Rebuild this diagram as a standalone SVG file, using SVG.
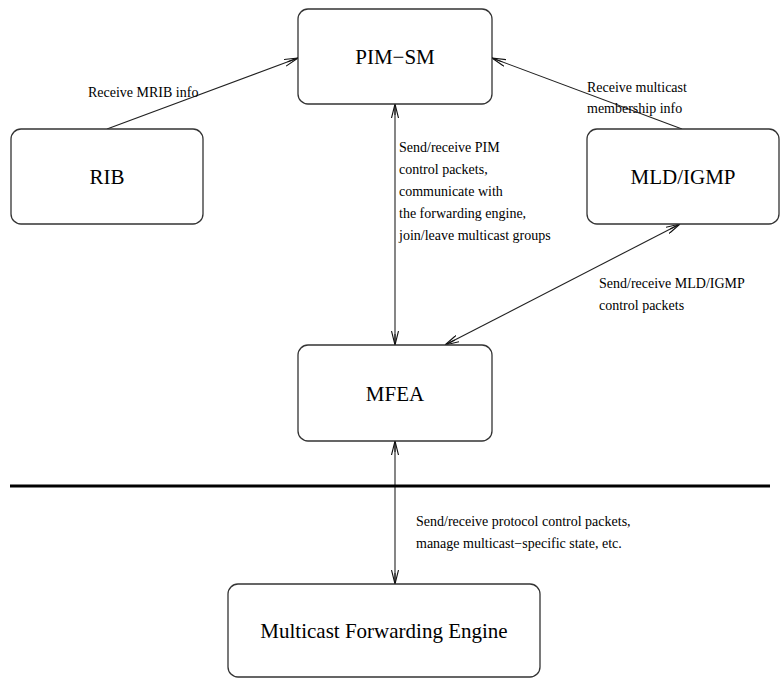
<svg xmlns="http://www.w3.org/2000/svg" width="780" height="678" viewBox="0 0 780 678">
<style>
.box{fill:#fff;stroke:#333;stroke-width:1.3}
.node{font-family:"Liberation Serif",serif;font-size:21px;fill:#000;text-anchor:middle}
.lbl{font-family:"Liberation Serif",serif;font-size:14px;fill:#000}
.con{stroke:#222;stroke-width:1.1;fill:none}
</style>
<defs>
<marker id="ah" viewBox="0 0 14 8" refX="14" refY="4" markerWidth="14" markerHeight="8" markerUnits="userSpaceOnUse" orient="auto-start-reverse">
<path d="M0,0.5 L14,4 L0,7.5" fill="none" stroke="#111" stroke-width="1.1"/>
<path d="M3,4 L14,4" stroke="#111" stroke-width="1"/>
</marker>
</defs>
<g id="connectors">
<line class="con" x1="107" y1="129" x2="298" y2="58" marker-end="url(#ah)"/>
<line class="con" x1="682" y1="129" x2="492" y2="58" marker-end="url(#ah)"/>
<line class="con" x1="395" y1="104" x2="395" y2="345" marker-start="url(#ah)" marker-end="url(#ah)"/>
<line class="con" x1="680" y1="224" x2="445" y2="345" marker-start="url(#ah)" marker-end="url(#ah)"/>
<line class="con" x1="395" y1="441" x2="395" y2="584" marker-start="url(#ah)" marker-end="url(#ah)"/>
<line x1="10" y1="486" x2="770" y2="486" stroke="#000" stroke-width="3"/>
</g>
<g id="pimsm"><rect class="box" x="298" y="9" width="194" height="95" rx="10"/><text class="node" x="395" y="64">PIM−SM</text></g>
<g id="rib"><rect class="box" x="11" y="129" width="192" height="95" rx="10"/><text class="node" x="107" y="184">RIB</text></g>
<g id="mldigmp"><rect class="box" x="587" y="129" width="192" height="95" rx="10"/><text class="node" x="683" y="184">MLD/IGMP</text></g>
<g id="mfea"><rect class="box" x="298" y="345" width="194" height="96" rx="10"/><text class="node" x="395" y="401">MFEA</text></g>
<g id="engine"><rect class="box" x="228" y="584" width="312" height="93" rx="10"/><text class="node" x="384" y="638">Multicast Forwarding Engine</text></g>
<g id="labels">
<text class="lbl" x="88" y="97">Receive MRIB info</text>
<text class="lbl" x="587" y="92">Receive multicast</text>
<text class="lbl" x="587" y="113">membership info</text>
<text class="lbl" x="399" y="152">Send/receive PIM</text>
<text class="lbl" x="399" y="174">control packets,</text>
<text class="lbl" x="399" y="196">communicate with</text>
<text class="lbl" x="399" y="218">the forwarding engine,</text>
<text class="lbl" x="399" y="240">join/leave multicast groups</text>
<text class="lbl" x="599" y="288">Send/receive MLD/IGMP</text>
<text class="lbl" x="599" y="310">control packets</text>
<text class="lbl" x="416" y="526">Send/receive protocol control packets,</text>
<text class="lbl" x="416" y="548">manage multicast−specific state, etc.</text>
</g>
</svg>
